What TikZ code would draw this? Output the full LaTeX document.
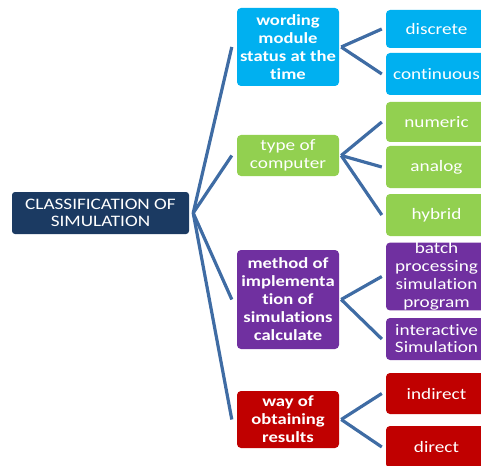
\documentclass[tikz,border=0pt]{standalone}
\usepackage{fontspec}
\setmainfont{Carlito}[FakeStretch=1.2, Ligatures={NoCommon}]
\definecolor{navy}{HTML}{1B3A62}
\definecolor{skyb}{HTML}{00B0F0}
\definecolor{lgreen}{HTML}{92D050}
\definecolor{purp}{HTML}{7030A0}
\definecolor{dred}{HTML}{C00000}
\definecolor{lineblue}{HTML}{3F6CA4}
\begin{document}
\begin{tikzpicture}[x=1pt,y=-1pt,
  box/.style={rectangle, rounded corners=4pt, text=white, inner sep=0pt, align=center, font=\fontsize{16}{17}\selectfont},
  lone/.style={box, minimum width=102pt},
  lonebold/.style={lone, font=\bfseries\fontsize{15.5}{18}\selectfont},
  ltwo/.style={box, minimum width=101pt},
  conn/.style={draw=lineblue, line width=3.2pt}]
\useasboundingbox (0,0) rectangle (481,465);
% root
\node[box, fill=navy, rounded corners=3pt, minimum width=177pt, minimum height=42pt] (root) at (100.5,213) {CLASSIFICATION OF\\SIMULATION};
% level 1
\node[lonebold, fill=skyb, minimum height=78pt] (b1) at (288,47) {wording\\module\\status at the\\time};
\node[lone, fill=lgreen, minimum height=41pt, font=\fontsize{16}{18}\selectfont] (g1) at (288,155.5) {type of\\computer};
\node[lonebold, fill=purp, minimum height=99pt] (p1) at (288,299.5) {method of\\implementa\\tion of\\simulations\\calculate};
\node[lonebold, fill=dred, minimum height=57pt] (r1) at (288,419.5) {way of\\obtaining\\results};
% level 2
\node[ltwo, fill=skyb, minimum height=38pt] (disc) at (436.5,29) {discrete};
\node[ltwo, fill=skyb, minimum height=42pt] (cont) at (436.5,74) {continuous};
\node[ltwo, fill=lgreen, minimum height=40pt] (num) at (436.5,122) {numeric};
\node[ltwo, fill=lgreen, minimum height=42pt] (ana) at (436.5,167) {analog};
\node[ltwo, fill=lgreen, minimum height=42pt] (hyb) at (436.5,215) {hybrid};
\node[ltwo, fill=purp, minimum height=67pt, font=\fontsize{16}{18}\selectfont] (bat) at (436.5,276.5) {batch\\processing\\simulation\\program};
\node[ltwo, fill=purp, minimum height=42pt] (inter) at (436.5,339) {interactive\\Simulation};
\node[ltwo, fill=dred, minimum height=41pt] (indir) at (436.5,393.5) {indirect};
\node[ltwo, fill=dred, minimum height=42pt] (dir) at (436.5,447) {direct};
% hubs
\coordinate (h0) at ([xshift=4pt]root.east);
\coordinate (hb) at ([xshift=2pt]b1.east);
\coordinate (hg) at ([xshift=2pt]g1.east);
\coordinate (hp) at ([xshift=2pt]p1.east);
\coordinate (hr) at ([xshift=2pt]r1.east);
% connectors
\foreach \t in {b1,g1,p1,r1} \draw[conn] (h0) -- ([xshift=-5pt]\t.west);
\foreach \t in {disc,cont} \draw[conn] (hb) -- ([xshift=-4pt]\t.west);
\foreach \t in {num,ana,hyb} \draw[conn] (hg) -- ([xshift=-4pt]\t.west);
\foreach \t in {bat,inter} \draw[conn] (hp) -- ([xshift=-4pt]\t.west);
\foreach \t in {indir,dir} \draw[conn] (hr) -- ([xshift=-4pt]\t.west);
\end{tikzpicture}
\end{document}
